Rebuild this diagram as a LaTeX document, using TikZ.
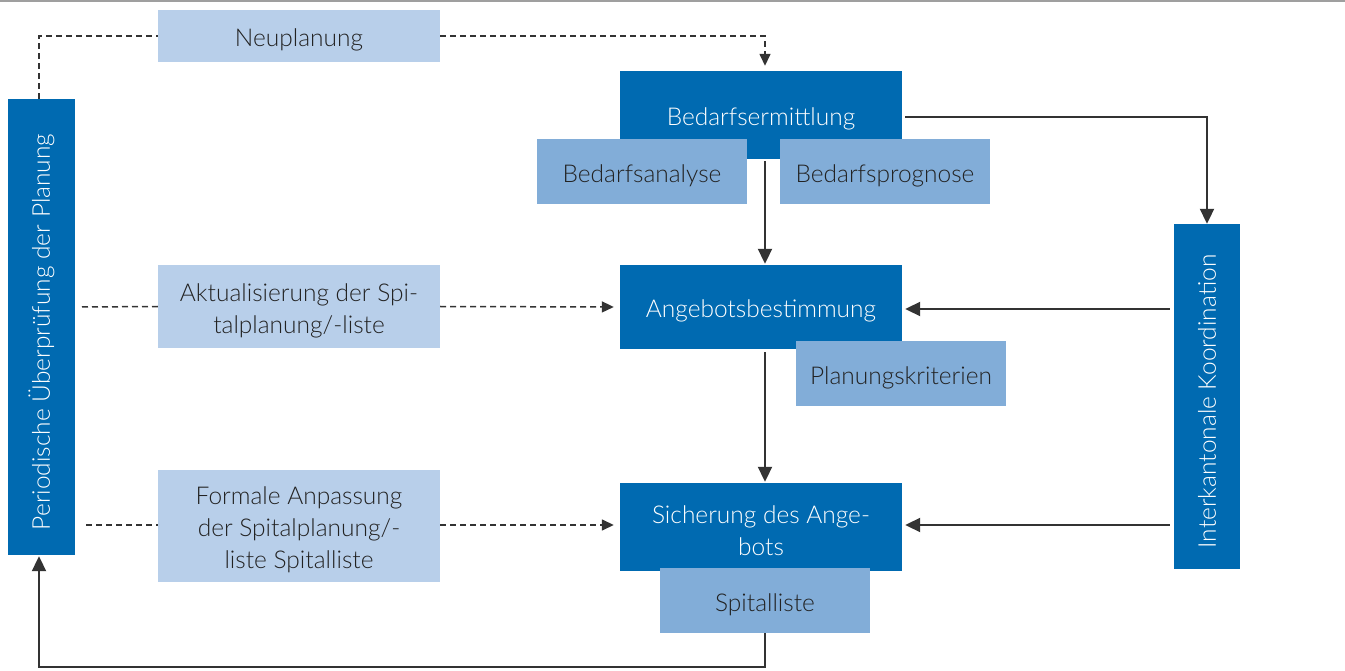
\documentclass[tikz,border=0pt]{standalone}
\usepackage{fontspec}
\setmainfont{Lato}[UprightFont={* Light}]
\usetikzlibrary{arrows.meta}
\definecolor{darkb}{HTML}{006AB1}
\definecolor{lightb}{HTML}{B8CFEA}
\definecolor{midb}{HTML}{82ADD8}
\definecolor{linec}{HTML}{333333}
\definecolor{txt}{HTML}{222222}
\newcommand{\bfnt}{\fontsize{24.5}{32}\selectfont}
\tikzset{
  boxbase/.style={inner sep=0pt},
  dark/.style={boxbase, fill=darkb},
  lightbox/.style={boxbase, fill=lightb},
  midbox/.style={boxbase, fill=midb},
  wtext/.style={label={[yshift=-4pt, align=center, font=\bfnt, text=white, inner sep=0pt]center:#1}},
  ktext/.style={label={[yshift=-4pt, align=center, font=\bfnt, text=txt, inner sep=0pt]center:#1}},
  rtext/.style={label={[yshift=-5pt, rotate=90, font=\bfnt, text=white, inner sep=0pt]center:#1}},
  conn/.style={draw=linec, line width=2pt, -{Triangle[length=15pt,width=14pt]}},
  dconn/.style={draw=linec, line width=1.5pt, dash pattern=on 6pt off 4pt},
  dtip/.style={-{Triangle[length=12pt,width=11pt]}}
}
\begin{document}
\begin{tikzpicture}[x=1pt,y=-1pt]
\useasboundingbox (0,0) rectangle (1345,671);
\fill[gray!75] (0,0) rectangle (1345,2.5);
% vertical boxes
\node[dark, minimum width=67pt, minimum height=456pt, rtext={Periodische Überprüfung der Planung}] (lp) at (41.5,327) {};
\node[dark, minimum width=66pt, minimum height=345pt, rtext={Interkantonale Koordination}] (ik) at (1207,396.5) {};
% left light boxes
\node[lightbox, minimum width=282pt, minimum height=52pt, ktext={Neuplanung}] (np) at (299,36) {};
\node[lightbox, minimum width=282pt, minimum height=83pt, ktext={Aktualisierung der Spi-\\talplanung/-liste}] (ak) at (299,306.5) {};
\node[lightbox, minimum width=282pt, minimum height=112pt, ktext={Formale Anpassung\\der Spitalplanung/-\\liste Spitalliste}] (fa) at (299,526) {};
% central dark boxes
\node[dark, minimum width=282pt, minimum height=88pt, wtext={Bedarfsermittlung}] (be) at (761,115) {};
\node[dark, minimum width=282pt, minimum height=84pt, wtext={Angebotsbestimmung}] (ab) at (761,307) {};
\node[dark, minimum width=282pt, minimum height=88pt, wtext={Sicherung des Ange-\\bots}] (si) at (761,527) {};
% medium boxes
\node[midbox, minimum width=210pt, minimum height=65pt, ktext={Bedarfsanalyse}] (ba) at (642,171.5) {};
\node[midbox, minimum width=210pt, minimum height=65pt, ktext={Bedarfsprognose}] (bp) at (885,171.5) {};
\node[midbox, minimum width=210pt, minimum height=65pt, ktext={Planungskriterien}] (pk) at (901,373.5) {};
\node[midbox, minimum width=210pt, minimum height=65pt, ktext={Spitalliste}] (sl) at (765,600.5) {};
% free ends
\coordinate (d1) at (82,307);
\coordinate (d2) at (86,525);
% connectors
\draw[dconn] (lp.north -| 39,0) |- (np.west);
\draw[dconn, dtip, shorten >=5pt] (np.east) -| (be.north -| 765,0);
\draw[conn, shorten <=2pt, shorten >=1pt] (be.south -| 765,0) -- (ab.north -| 765,0);
\draw[conn, shorten <=3pt] (be.east) ++(0,2) -| (ik.north);
\draw[conn, shorten <=4pt, shorten >=3pt] (ik.west |- 0,309) -- (ab.east |- 0,309);
\draw[conn, shorten <=4pt, shorten >=3pt] (ik.west |- 0,525) -- (si.east |- 0,525);
\draw[conn, shorten <=3pt, shorten >=1pt] (ab.south -| 765,0) -- (si.north -| 765,0);
\draw[dconn] (d1) -- (ak.west);
\draw[dconn, dtip, shorten >=6pt] (ak.east) -- (ab.west);
\draw[dconn] (d2) -- (fa.west |- d2);
\draw[dconn, dtip, shorten >=6pt] (fa.east |- d2) -- (si.west |- d2);
\draw[conn, shorten >=1pt] (sl.south) -- ++(0,34) -| (lp.south -| 39,0);
\end{tikzpicture}
\end{document}
